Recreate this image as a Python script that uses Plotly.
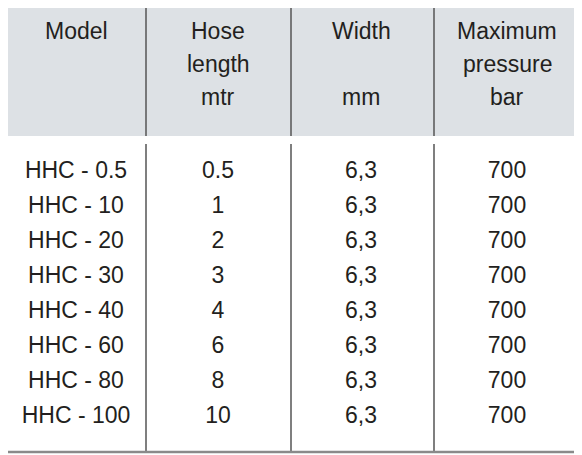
import plotly.graph_objects as go

headers = [["Model"], ["Hose", "length", "mtr"], ["Width", "", "mm"], ["Maximum", "pressure", "bar"]]
models = ["HHC - 0.5", "HHC - 10", "HHC - 20", "HHC - 30", "HHC - 40", "HHC - 60", "HHC - 80", "HHC - 100"]
lengths = ["0.5", "1", "2", "3", "4", "6", "8", "10"]
widths = ["6,3"] * 8
pressures = ["700"] * 8

col_x = [76, 218, 361, 507]
rows = list(range(len(models)))
RH = 35.0  # pixels per row
OFF = 8    # page body margin compensation
def py(p):  # pixel y -> row units
    return (p - 172) / RH

fig = go.Figure()
font = dict(family="Liberation Sans, Arial, sans-serif", size=23, color="#231f20")
for cx, col in zip(col_x, [models, lengths, widths, pressures]):
    fig.add_trace(go.Scatter(x=[cx] * len(col), y=rows, text=col, mode="text",
                             textfont=font, hoverinfo="skip", showlegend=False))
for cx, h in zip(col_x, headers):
    for i, line in enumerate(h):
        if line:
            fig.add_annotation(x=cx, y=py(31 + 33 * i), text=line, showarrow=False,
                               yanchor="middle", font=font)

shapes = [dict(type="rect", x0=0, x1=580, y0=py(0), y1=py(136), fillcolor="#dde1e5",
               line_width=0, layer="below")]
for lx in [146, 291, 434, 578]:
    shapes.append(dict(type="line", x0=lx, x1=lx, y0=py(3), y1=py(136), line=dict(color="#555", width=1.5)))
    shapes.append(dict(type="line", x0=lx, x1=lx, y0=py(144), y1=py(451), line=dict(color="#555", width=1.5)))
shapes.append(dict(type="line", x0=0, x1=582, y0=py(452), y1=py(452), line=dict(color="#8a8a8a", width=2.5)))

fig.update_layout(width=582, height=455, margin=dict(l=0, r=0, t=0, b=0),
                  plot_bgcolor="white", paper_bgcolor="white", shapes=shapes,
                  xaxis=dict(range=[OFF, 582 + OFF], visible=False, fixedrange=True),
                  yaxis=dict(range=[py(455 + OFF), py(OFF)], visible=False, fixedrange=True))
fig.write_html("out.html")
